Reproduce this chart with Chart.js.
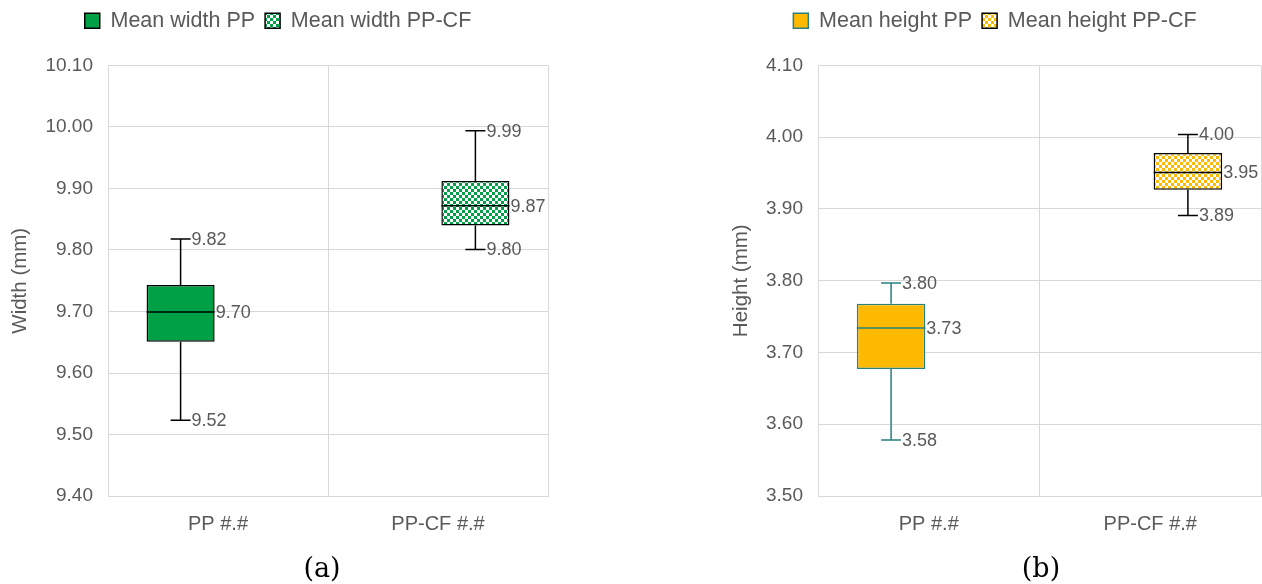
<!DOCTYPE html>
<html>
<head>
<meta charset="utf-8">
<script src="https://cdn.jsdelivr.net/npm/chart.js@4.4.1/dist/chart.umd.min.js"></script>
<style>
  body { margin: 0; background: #fff; width: 1262px; height: 584px; position: relative; overflow: hidden; }
  .wrap { position: absolute; top: 0; height: 556px; }
  #wa { left: 0; width: 560px; }
  #wb { left: 712px; width: 550px; }
  .cap { position: absolute; top: 552px; font-family: "DejaVu Serif", serif; font-size: 27px; color: #000; transform: translateX(-50%); }
</style>
</head>
<body>
<div class="wrap" id="wa"><canvas id="chartA"></canvas></div>
<div class="wrap" id="wb"><canvas id="chartB"></canvas></div>
<div class="cap" style="left:322px">(a)</div>
<div class="cap" style="left:1041px">(b)</div>
<script>
  const categories = ['PP #.#', 'PP-CF #.#']

  // index 0 = PP, index 1 = PP-CF
  const widthMin = [9.523, 9.801]
  const widthQ1 = [9.651, 9.840]
  const widthMedian = [9.699, 9.872]
  const widthQ3 = [9.743, 9.912]
  const widthMax = [9.818, 9.994]

  const heightMin = [3.578, 3.891]
  const heightQ1 = [3.677, 3.927]
  const heightMedian = [3.734, 3.951]
  const heightQ3 = [3.768, 3.978]
  const heightMax = [3.797, 4.004]

  const grey = '#595959'
  const gridCol = '#d9d9d9'
  const font = 'Liberation Sans'

  function checker(color) {
    const c = document.createElement('canvas')
    c.width = 6; c.height = 6
    const g = c.getContext('2d')
    g.fillStyle = '#fff'; g.fillRect(0, 0, 6, 6)
    g.fillStyle = color
    g.fillRect(0, 0, 3, 3); g.fillRect(3, 3, 3, 3)
    return g.createPattern(c, 'repeat')
  }

  // extra room under the legend
  const legendGap = {
    id: 'legendGap',
    beforeInit(chart) {
      const fit = chart.legend.fit
      chart.legend.fit = function () {
        fit.call(this)
        this.height += 24
      }
    }
  }

  // whiskers, caps, median line and value labels
  const whiskers = {
    id: 'whiskers',
    afterDatasetsDraw(chart, args, opts) {
      const ctx = chart.ctx
      const y = chart.scales.y
      chart.data.datasets.forEach((ds, i) => {
        const meta = chart.getDatasetMeta(i)
        const s = opts.stats
        meta.data.forEach((el, j) => {
          if (ds.data[j] == null) return
          const x = el.x, hw = el.width / 2
          const yMin = y.getPixelForValue(s.min[i])
          const yMax = y.getPixelForValue(s.max[i])
          const yMed = y.getPixelForValue(s.median[i])
          const yQ1 = y.getPixelForValue(s.q1[i])
          const yQ3 = y.getPixelForValue(s.q3[i])
          ctx.save()
          ctx.strokeStyle = ds.borderColor
          ctx.lineWidth = 1.5
          ctx.beginPath()
          ctx.moveTo(x, yQ3); ctx.lineTo(x, yMax)
          ctx.moveTo(x, yQ1); ctx.lineTo(x, yMin)
          ctx.moveTo(x - 10, yMax); ctx.lineTo(x + 10, yMax)
          ctx.moveTo(x - 10, yMin); ctx.lineTo(x + 10, yMin)
          ctx.moveTo(x - hw, yMed); ctx.lineTo(x + hw, yMed)
          ctx.stroke()
          ctx.fillStyle = grey
          ctx.font = '18px "' + font + '"'
          ctx.textAlign = 'left'
          ctx.textBaseline = 'middle'
          ctx.fillText(s.max[i].toFixed(2), x + 11, yMax + 1)
          ctx.fillText(s.median[i].toFixed(2), x + hw + 1, yMed + 1)
          ctx.fillText(s.min[i].toFixed(2), x + 11, yMin + 1)
          ctx.restore()
        })
      })
    }
  }

  function makeChart(id, cfg) {
    return new Chart(document.getElementById(id), {
      type: 'bar',
      data: {
        labels: categories,
        datasets: [{
          label: cfg.names[0],
          data: [[cfg.stats.q1[0], cfg.stats.q3[0]], null],
          backgroundColor: cfg.color,
          borderColor: cfg.border0,
          borderWidth: 1.5,
          borderSkipped: false
        }, {
          label: cfg.names[1],
          data: [null, [cfg.stats.q1[1], cfg.stats.q3[1]]],
          backgroundColor: checker(cfg.color),
          borderColor: '#000',
          borderWidth: 1.5,
          borderSkipped: false
        }]
      },
      options: {
        responsive: true,
        maintainAspectRatio: false,
        animation: false,
        categoryPercentage: 0.68,
        barPercentage: 0.91,
        layout: { padding: { left: cfg.padLeft, right: cfg.padRight, top: 0, bottom: 4 } },
        plugins: {
          legend: {
            labels: {
              color: grey,
              font: { family: font, size: 21.5 },
              boxWidth: 15,
              boxHeight: 15,
              padding: 10
            }
          },
          tooltip: { enabled: false },
          whiskers: { stats: cfg.stats }
        },
        scales: {
          x: {
            grid: { color: gridCol, drawTicks: false, offset: true },
            border: { color: gridCol },
            ticks: { color: grey, font: { family: font, size: 20 }, padding: 16 }
          },
          y: {
            min: cfg.min,
            max: cfg.max,
            afterFit(scale) { scale.width = cfg.axisWidth },
            grid: { color: gridCol, drawTicks: false },
            border: { color: gridCol },
            ticks: {
              stepSize: 0.1,
              color: grey,
              font: { family: font, size: 19 },
              padding: 15,
              callback: v => v.toFixed(2)
            },
            title: {
              display: true,
              text: cfg.title,
              color: grey,
              font: { family: font, size: 20.5 },
              padding: 0
            }
          }
        }
      },
      plugins: [legendGap, whiskers]
    })
  }

  makeChart('chartA', {
    names: ['Mean width PP', 'Mean width PP-CF'],
    title: 'Width (mm)',
    color: '#00A046',
    border0: '#000',
    min: 9.4, max: 10.1,
    axisWidth: 100, padLeft: 8, padRight: 12,
    stats: { min: widthMin, q1: widthQ1, median: widthMedian, q3: widthQ3, max: widthMax }
  })

  makeChart('chartB', {
    names: ['Mean height PP', 'Mean height PP-CF'],
    title: 'Height (mm)',
    color: '#FFBA00',
    border0: '#2A7F7F',
    min: 3.5, max: 4.1,
    axisWidth: 89, padLeft: 17, padRight: 1,
    stats: { min: heightMin, q1: heightQ1, median: heightMedian, q3: heightQ3, max: heightMax }
  })
</script>
</body>
</html>
